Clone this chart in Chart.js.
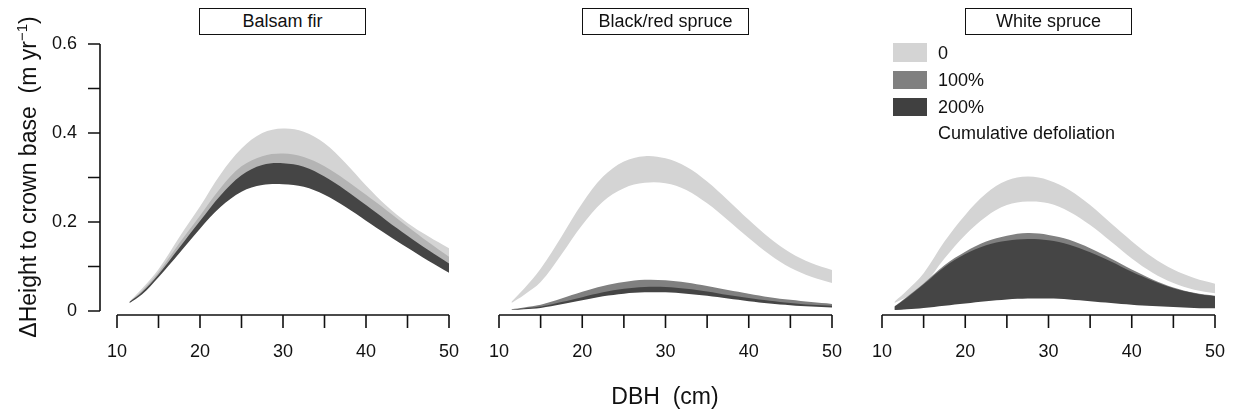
<!DOCTYPE html>
<html>
<head>
<meta charset="utf-8">
<script src="https://cdn.jsdelivr.net/npm/chart.js"></script>
<style>
  body { margin: 0; background: #fff; }
  #wrap { position: relative; width: 1236px; height: 414px; background: #fff;
          font-family: "Liberation Sans", Arial, Helvetica, sans-serif; color: #111; overflow: hidden; }
  canvas { position: absolute; left: 0; top: 0; }
  .ttl { position: absolute; top: 8px; width: 167px; height: 27px; box-sizing: border-box;
         border: 1.5px solid #111; text-align: center; line-height: 25px; font-size: 18px; background: #fff; }
  .sw { position: absolute; left: 893px; width: 34px; height: 18px; }
  .lg { position: absolute; left: 938px; font-size: 18px; line-height: 20px; white-space: nowrap; }
  #ytitle { position: absolute; left: -152px; top: 162px; width: 360px; height: 30px; text-align: center;
            font-size: 23px; line-height: 30px; transform: rotate(-90deg); white-space: nowrap; }
  #ytitle sup { font-size: 15px; vertical-align: 9px; line-height: 0; }
  #xtitle { position: absolute; left: 565px; top: 382px; width: 200px; text-align: center;
            font-size: 23px; line-height: 28px; white-space: pre; }
</style>
</head>
<body>
<div id="wrap">
  <canvas id="c1" width="1236" height="414"></canvas>
  <canvas id="c2" width="1236" height="414"></canvas>
  <canvas id="c3" width="1236" height="414"></canvas>

  <div class="ttl" style="left:199px">Balsam fir</div>
  <div class="ttl" style="left:582px">Black/red spruce</div>
  <div class="ttl" style="left:965px">White spruce</div>

  <div class="sw" style="top:43px;height:19px;background:#d4d4d4"></div>
  <div class="sw" style="top:71px;background:#808080"></div>
  <div class="sw" style="top:98px;background:#404040"></div>
  <div class="lg" style="top:43px">0</div>
  <div class="lg" style="top:70px">100%</div>
  <div class="lg" style="top:97px">200%</div>
  <div class="lg" style="top:123px">Cumulative defoliation</div>

  <div id="ytitle">ΔHeight to crown base&nbsp;&nbsp;(m yr<sup>−1</sup>)</div>
  <div id="xtitle">DBH  (cm)</div>
</div>

<script>
// DBH values (cm) where the curves were read
const dbh = [11.5, 13, 15, 17.5, 20, 22.5, 25, 27.5, 30, 32.5, 35, 37.5, 40, 42.5, 45, 47.5, 50];

// Balsam fir
const firZeroHi = [0.021, 0.050, 0.094, 0.166, 0.235, 0.308, 0.365, 0.400, 0.410, 0.403, 0.377, 0.333, 0.282, 0.236, 0.198, 0.168, 0.141];
const firZeroLo = [0.018, 0.041, 0.079, 0.133, 0.189, 0.237, 0.271, 0.286, 0.288, 0.282, 0.264, 0.237, 0.206, 0.175, 0.145, 0.116, 0.089];
const fir100Hi  = [0.021, 0.045, 0.087, 0.152, 0.214, 0.277, 0.325, 0.348, 0.354, 0.346, 0.325, 0.295, 0.261, 0.226, 0.190, 0.155, 0.122];
const fir100Lo  = [0.018, 0.040, 0.078, 0.132, 0.188, 0.236, 0.270, 0.285, 0.287, 0.281, 0.263, 0.236, 0.205, 0.174, 0.144, 0.115, 0.088];
const fir200Hi  = [0.020, 0.042, 0.082, 0.142, 0.202, 0.260, 0.305, 0.328, 0.332, 0.324, 0.302, 0.272, 0.238, 0.203, 0.169, 0.137, 0.107];
const fir200Lo  = [0.018, 0.037, 0.076, 0.130, 0.185, 0.234, 0.268, 0.283, 0.285, 0.279, 0.261, 0.234, 0.203, 0.172, 0.142, 0.113, 0.086];

// Black/red spruce
const brsZeroHi = [0.021, 0.050, 0.095, 0.167, 0.242, 0.302, 0.336, 0.348, 0.343, 0.324, 0.291, 0.249, 0.205, 0.164, 0.131, 0.108, 0.092];
const brsZeroLo = [0.018, 0.036, 0.065, 0.127, 0.193, 0.246, 0.276, 0.288, 0.287, 0.272, 0.242, 0.204, 0.164, 0.127, 0.097, 0.077, 0.063];
const brs100Hi  = [0.004, 0.008, 0.014, 0.028, 0.043, 0.056, 0.065, 0.070, 0.069, 0.064, 0.056, 0.047, 0.039, 0.031, 0.025, 0.020, 0.016];
const brs100Lo  = [0.003, 0.005, 0.009, 0.018, 0.028, 0.038, 0.045, 0.049, 0.049, 0.046, 0.040, 0.033, 0.026, 0.020, 0.015, 0.012, 0.010];
const brs200Hi  = [0.003, 0.006, 0.010, 0.020, 0.031, 0.042, 0.050, 0.054, 0.054, 0.050, 0.044, 0.036, 0.029, 0.023, 0.018, 0.014, 0.012];
const brs200Lo  = [0.002, 0.004, 0.007, 0.015, 0.024, 0.033, 0.039, 0.042, 0.042, 0.039, 0.034, 0.028, 0.022, 0.017, 0.013, 0.010, 0.008];

// White spruce
const wsZeroHi = [0.021, 0.046, 0.085, 0.156, 0.216, 0.264, 0.293, 0.302, 0.294, 0.272, 0.238, 0.197, 0.157, 0.121, 0.093, 0.074, 0.061];
const wsZeroLo = [0.018, 0.032, 0.058, 0.118, 0.171, 0.212, 0.238, 0.246, 0.242, 0.223, 0.193, 0.156, 0.118, 0.086, 0.063, 0.048, 0.040];
const ws100Hi  = [0.010, 0.032, 0.062, 0.103, 0.133, 0.156, 0.169, 0.175, 0.171, 0.160, 0.141, 0.118, 0.093, 0.071, 0.053, 0.041, 0.034];
const ws100Lo  = [0.003, 0.005, 0.009, 0.014, 0.019, 0.024, 0.028, 0.030, 0.030, 0.028, 0.024, 0.020, 0.016, 0.013, 0.011, 0.009, 0.008];
const ws200Hi  = [0.010, 0.030, 0.060, 0.099, 0.128, 0.148, 0.158, 0.162, 0.159, 0.149, 0.132, 0.111, 0.088, 0.068, 0.051, 0.040, 0.033];
const ws200Lo  = [0.002, 0.004, 0.007, 0.012, 0.017, 0.022, 0.026, 0.028, 0.028, 0.026, 0.022, 0.018, 0.014, 0.011, 0.009, 0.007, 0.006];

// axis ticks
const xTicks = [10, 15, 20, 25, 30, 35, 40, 45, 50];
const xLabels = [10, 20, 30, 40, 50];
const yTicks = [0, 0.1, 0.2, 0.3, 0.4, 0.5, 0.6];
const yLabels = ['0', '0.2', '0.4', '0.6'];
const yLabelVals = [0, 0.2, 0.4, 0.6];

const pts = arr => arr.map((v, i) => ({x: dbh[i], y: v}));

function band(lo, hi, color) {
  const common = {borderWidth: 0, pointRadius: 0, tension: 0.35};
  return [
    Object.assign({data: pts(hi), fill: '+1', backgroundColor: color}, common),
    Object.assign({data: pts(lo), fill: false}, common)
  ];
}

// R-like detached axes
const rAxes = {
  id: 'rAxes',
  afterDraw(chart, args, opts) {
    const {ctx, chartArea, scales: {x, y}} = chart;
    ctx.save();
    ctx.strokeStyle = '#111';
    ctx.fillStyle = '#111';
    ctx.lineWidth = 1.6;
    ctx.font = '18px "Liberation Sans", Arial, sans-serif';

    // x axis
    const yb = chartArea.bottom;
    ctx.beginPath();
    ctx.moveTo(x.getPixelForValue(xTicks[0]), yb);
    ctx.lineTo(x.getPixelForValue(xTicks[xTicks.length - 1]), yb);
    xTicks.forEach(t => {
      const px = x.getPixelForValue(t);
      ctx.moveTo(px, yb);
      ctx.lineTo(px, yb + 13);
    });
    ctx.stroke();
    ctx.textAlign = 'center';
    ctx.textBaseline = 'middle';
    xLabels.forEach(t => ctx.fillText(String(t), x.getPixelForValue(t), yb + 37));

    // y axis (first panel only)
    if (opts.showY) {
      const xl = chartArea.left - 17;
      ctx.beginPath();
      ctx.moveTo(xl, y.getPixelForValue(yTicks[0]));
      ctx.lineTo(xl, y.getPixelForValue(yTicks[yTicks.length - 1]));
      yTicks.forEach(t => {
        const py = y.getPixelForValue(t);
        ctx.moveTo(xl, py);
        ctx.lineTo(xl - 12, py);
      });
      ctx.stroke();
      ctx.textAlign = 'right';
      yLabelVals.forEach((t, i) => ctx.fillText(yLabels[i], xl - 23, y.getPixelForValue(t)));
    }
    ctx.restore();
  }
};

function makePanel(id, left, right, bands, showY) {
  new Chart(document.getElementById(id), {
    type: 'line',
    data: {datasets: bands},
    options: {
      responsive: false,
      animation: false,
      devicePixelRatio: 1,
      layout: {padding: {left: left, right: 1236 - right, top: 44, bottom: 99}},
      scales: {
        x: {type: 'linear', min: 10, max: 50, display: false},
        y: {type: 'linear', min: -0.009, max: 0.6, display: false}
      },
      plugins: {legend: {display: false}, tooltip: {enabled: false}, rAxes: {showY: showY}}
    },
    plugins: [rAxes]
  });
}

const light = '#d4d4d4', mid = '#808080', dark = '#454545';

makePanel('c1', 117, 449, [
  ...band(fir200Lo, fir200Hi, dark),
  ...band(fir100Lo, fir100Hi, '#b4b4b4'),
  ...band(firZeroLo, firZeroHi, light)
], true);

makePanel('c2', 499, 832, [
  ...band(brs200Lo, brs200Hi, dark),
  ...band(brs100Lo, brs100Hi, mid),
  ...band(brsZeroLo, brsZeroHi, light)
], false);

makePanel('c3', 882, 1215, [
  ...band(ws200Lo, ws200Hi, dark),
  ...band(ws100Lo, ws100Hi, mid),
  ...band(wsZeroLo, wsZeroHi, light)
], false);
</script>
</body>
</html>
